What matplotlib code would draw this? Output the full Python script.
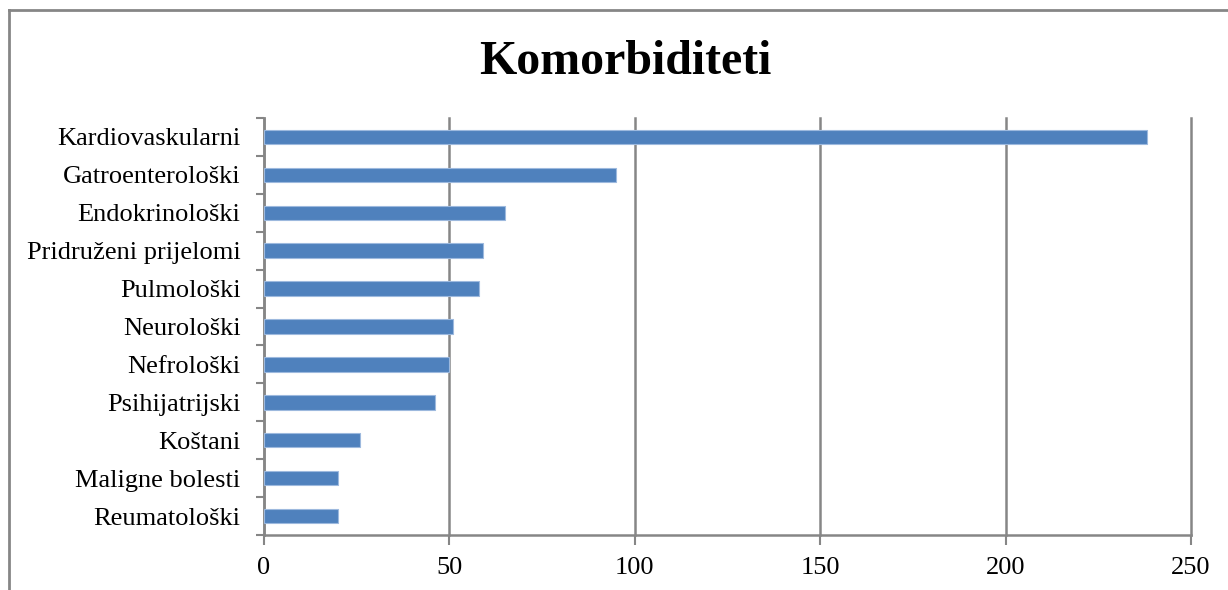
import matplotlib.pyplot as plt
from matplotlib.lines import Line2D
import numpy as np

# data, listed bottom to top as drawn
categories = ['Reumatološki', 'Maligne bolesti', 'Koštani', 'Psihijatrijski',
              'Nefrološki', 'Neurološki', 'Pulmološki', 'Pridruženi prijelomi',
              'Endokrinološki', 'Gatroenterološki', 'Kardiovaskularni']
values = [20, 20, 26, 46, 50, 51, 58, 59, 65, 95, 238]
xticks = [0, 50, 100, 150, 200, 250]

plt.rcParams['font.family'] = ['Liberation Serif', 'DejaVu Serif']

fig = plt.figure(figsize=(12.28, 5.90), dpi=100)
ax = fig.add_axes([264 / 1228, 1 - 535 / 590, (1191 - 264) / 1228, (535 - 118) / 590])

grid_col = '#868686'
ypos = np.arange(len(categories))
ax.barh(ypos, values, height=0.38, color='#4F81BD', edgecolor='#9DB9DE',
        linewidth=0.8, zorder=3)

ax.set_xlim(0, 250)
ax.set_ylim(-0.5, len(categories) - 0.5)

ax.set_xticks(xticks)
ax.set_xticklabels([str(t) for t in xticks], fontsize=19)
ax.xaxis.grid(True, color=grid_col, linewidth=1.8, zorder=0)
for gl in ax.get_xgridlines():
    gl.set_clip_on(False)
ax.tick_params(axis='x', length=7, width=1.5, color=grid_col, pad=9)

# category ticks between bars, labels at bar centres
ax.set_yticks(np.arange(-0.5, len(categories)), minor=False)
ax.set_yticklabels([''] * (len(categories) + 1))
ax.set_yticks(ypos, minor=True)
ax.set_yticklabels(categories, minor=True, fontsize=19)
ax.tick_params(axis='y', which='major', length=6, width=1.5, color=grid_col)
ax.tick_params(axis='y', which='minor', length=0, pad=17)

for s in ['top', 'right']:
    ax.spines[s].set_visible(False)
for s in ['left', 'bottom']:
    ax.spines[s].set_color(grid_col)
    ax.spines[s].set_linewidth(1.8)

fig.text(625 / 1228, 1 - 62 / 590, 'Komorbiditeti', fontsize=34.5,
         fontweight='bold', ha='center', va='center')

# outer chart frame (cut off at right and bottom)
fig.add_artist(Line2D([9 / 1228, 1.01], [1 - 10 / 590, 1 - 10 / 590],
                      transform=fig.transFigure, color=grid_col, linewidth=2))
fig.add_artist(Line2D([9 / 1228, 9 / 1228], [1 - 10 / 590, -0.01],
                      transform=fig.transFigure, color=grid_col, linewidth=2))

fig.savefig('out.png', dpi=100)
